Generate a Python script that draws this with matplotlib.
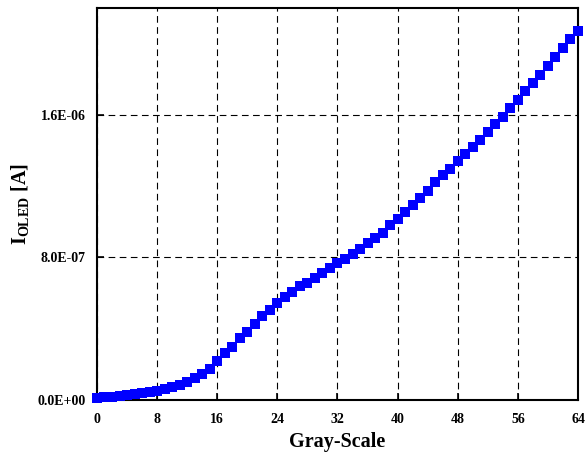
import matplotlib
matplotlib.use('Agg')
import matplotlib.pyplot as plt

# gray level vs OLED current (units of 1e-7 A)
gray = list(range(65))
current_e7 = [0.10, 0.12, 0.16, 0.21, 0.25, 0.31, 0.37, 0.42, 0.50, 0.57,
              0.69, 0.82, 0.98, 1.19, 1.42, 1.72, 2.17, 2.63, 2.97, 3.46,
              3.81, 4.25, 4.70, 5.04, 5.43, 5.77, 6.06, 6.39, 6.57, 6.85,
              7.10, 7.38, 7.66, 7.89, 8.19, 8.45, 8.79, 9.07, 9.38, 9.82,
              10.14, 10.51, 10.94, 11.32, 11.69, 12.20, 12.59, 12.97, 13.42, 13.79,
              14.19, 14.60, 15.01, 15.48, 15.88, 16.38, 16.85, 17.32, 17.79, 18.26,
              18.72, 19.25, 19.76, 20.23, 20.73]
current = [v * 1e-7 for v in current_e7]

xticks = [0, 8, 16, 24, 32, 40, 48, 56, 64]
yticks = [0.0, 8.0e-7, 1.6e-6]
ytick_labels = ['0.0E+00', '8.0E-07', '1.6E-06']

plt.rcParams['font.family'] = ['Liberation Serif', 'DejaVu Serif']
plt.rcParams['font.weight'] = 'bold'
plt.rcParams['mathtext.fontset'] = 'custom'
plt.rcParams['mathtext.rm'] = 'Liberation Serif:bold'
plt.rcParams['mathtext.bf'] = 'Liberation Serif:bold'
plt.rcParams['mathtext.it'] = 'Liberation Serif:bold'

fig = plt.figure(figsize=(5.86, 4.57), dpi=100)
ax = fig.add_axes([0.1655, 0.1258, 0.8208, 0.8567])

ax.plot(gray, current, linestyle='none', marker='s', markersize=7.2,
        color='#0000ff', markeredgewidth=0, clip_on=False, zorder=5)

ax.set_xlim(0, 64)
ax.set_ylim(0, 2.2e-6)
ax.set_xticks(xticks)
ax.set_xticklabels([str(t) for t in xticks])
ax.set_yticks(yticks)
ax.set_yticklabels(ytick_labels)

ax.grid(True, color='black', linestyle=(0, (6, 4)), linewidth=0.8)
ax.tick_params(direction='in', length=5, width=1.2, labelsize=10, colors='black')
ax.tick_params(axis='x', pad=10)
ax.tick_params(axis='y', pad=8)
for s in ax.spines.values():
    s.set_linewidth(1.5)

ax.set_xlabel('Gray-Scale', fontsize=14.5, fontweight='bold', labelpad=4)
ax.set_ylabel(r'$\mathbf{I}_{\mathbf{OLED}}$ [A]', fontsize=14.5, fontweight='bold', labelpad=5)

fig.savefig('out.png', dpi=100)
